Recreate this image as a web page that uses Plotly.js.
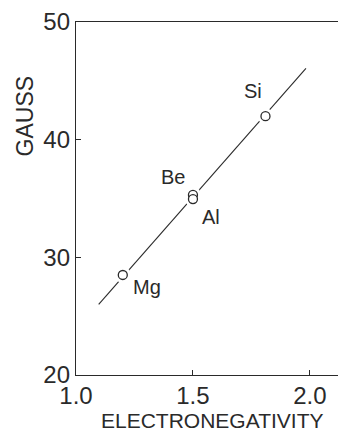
<!DOCTYPE html>
<html>
<head>
<meta charset="utf-8">
<script src="https://cdn.plot.ly/plotly-3.0.1.min.js"></script>
<style>
html,body{margin:0;padding:0;background:#fff;}
#chart{width:338px;height:434px;}
</style>
</head>
<body>
<div id="chart"></div>
<script>
// Data
const elements = ["Mg", "Be", "Al", "Si"];
const electronegativity = [1.2, 1.5, 1.5, 1.81];
const gauss = [28.5, 35.3, 34.95, 42.0];
const fitLineX = [1.097, 1.983];
const fitLineY = [26.0, 46.06];
const xTickVals = [1.0, 1.5, 2.0];
const xTickText = ["1.0", "1.5", "2.0"];
const yTickVals = [20, 30, 40, 50];
const yTickText = ["20", "30", "40", "50"];
// label offsets in pixels (style, not data)
const labelShiftX = [24, -20, 18, -12];
const labelShiftY = [-12, 18, -18, 25];

const FONT = "'Liberation Sans', Arial, sans-serif";
const INK = "#2a2a2a";

const traces = [
  {
    x: fitLineX, y: fitLineY, mode: "lines", type: "scatter",
    line: {color: INK, width: 1.1}, hoverinfo: "skip", showlegend: false
  },
  {
    x: electronegativity, y: gauss, mode: "markers", type: "scatter",
    marker: {symbol: "circle", size: 16, color: "#fff", line: {width: 0}},
    hoverinfo: "skip", showlegend: false
  },
  {
    x: electronegativity, y: gauss, mode: "markers", type: "scatter",
    marker: {symbol: "circle", size: 9, color: "#fff", line: {color: INK, width: 1.3}},
    showlegend: false
  }
];

const annotations = elements.map((el, i) => ({
  x: electronegativity[i], y: gauss[i], xref: "x", yref: "y",
  text: el, showarrow: false, xshift: labelShiftX[i], yshift: labelShiftY[i],
  font: {family: FONT, size: 20, color: INK}
}));
annotations.push({
  xref: "paper", yref: "paper", x: -0.195, y: 0.735, textangle: -90,
  text: "GAUSS", showarrow: false, xanchor: "center", yanchor: "middle",
  font: {family: FONT, size: 23, color: INK}
});
annotations.push({
  xref: "paper", yref: "paper", x: 0.52, y: -0.13,
  text: "ELECTRONEGATIVITY", showarrow: false, xanchor: "center", yanchor: "middle",
  font: {family: FONT, size: 21, color: INK}
});

const layout = {
  width: 338, height: 434,
  margin: {l: 76, r: 0, t: 22, b: 59, pad: 0},
  paper_bgcolor: "#fff", plot_bgcolor: "#fff",
  showlegend: false,
  font: {family: FONT, color: INK},
  xaxis: {
    range: [1.0, 2.12], tickvals: xTickVals, ticktext: xTickText,
    ticks: "inside", ticklen: 5, tickwidth: 1, tickcolor: INK,
    showline: true, linecolor: INK, linewidth: 1.2, mirror: true,
    showgrid: false, zeroline: false, ticklabelstandoff: -1,
    tickfont: {family: FONT, size: 24, color: INK}
  },
  yaxis: {
    range: [20, 50], tickvals: yTickVals, ticktext: yTickText,
    ticks: "inside", ticklen: 5, tickwidth: 1, tickcolor: INK,
    showline: true, linecolor: INK, linewidth: 1.2, mirror: false,
    showgrid: false, zeroline: false,
    tickfont: {family: FONT, size: 24, color: INK}
  },
  annotations: annotations
};

Plotly.newPlot("chart", traces, layout, {staticPlot: true, displayModeBar: false});
</script>
</body>
</html>
